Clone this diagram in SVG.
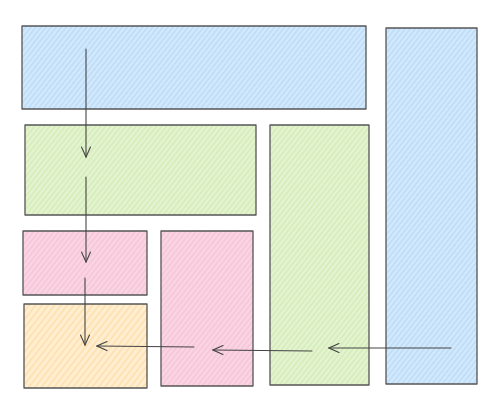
<svg xmlns="http://www.w3.org/2000/svg" width="496" height="404" viewBox="0 0 496 404">
<style>
.box{stroke:#555;stroke-width:1.3;stroke-linejoin:round}
.conn line,.conn path{stroke:#444;stroke-width:1.1;fill:none;stroke-linecap:round}
</style>
<defs>
<pattern id="hb" width="4" height="4" patternUnits="userSpaceOnUse" patternTransform="rotate(38)"><rect width="4" height="4" fill="#d3e9fc"/><line x1="1" y1="0" x2="1" y2="4" stroke="#b7d9f8" stroke-width="1.3"/></pattern>
<pattern id="hg" width="4" height="4" patternUnits="userSpaceOnUse" patternTransform="rotate(38)"><rect width="4" height="4" fill="#e4f4d2"/><line x1="1" y1="0" x2="1" y2="4" stroke="#d0ebb0" stroke-width="1.3"/></pattern>
<pattern id="hp" width="4" height="4" patternUnits="userSpaceOnUse" patternTransform="rotate(38)"><rect width="4" height="4" fill="#fad6e4"/><line x1="1" y1="0" x2="1" y2="4" stroke="#f6bfd5" stroke-width="1.3"/></pattern>
<pattern id="hy" width="5" height="5" patternUnits="userSpaceOnUse" patternTransform="rotate(38)"><rect width="5" height="5" fill="#ffeecf"/><line x1="1" y1="0" x2="1" y2="5" stroke="#fde0ae" stroke-width="1.6"/></pattern>
<marker id="ah" viewBox="0 0 12 12" refX="11" refY="6" markerWidth="12" markerHeight="12" markerUnits="userSpaceOnUse" orient="auto"><path d="M1,1.5 L11,6 L1,10.5" fill="none" stroke="#444" stroke-width="1.1" stroke-linecap="round"/></marker>
</defs>
<g id="blue-top"><rect class="box" x="22" y="26" width="344" height="83" fill="url(#hb)"/></g>
<g id="blue-right"><rect class="box" x="386" y="28" width="91" height="356" fill="url(#hb)"/></g>
<g id="green-wide"><rect class="box" x="25" y="125" width="231" height="90" fill="url(#hg)"/></g>
<g id="green-tall"><rect class="box" x="270" y="125" width="99" height="260" fill="url(#hg)"/></g>
<g id="pink-small"><rect class="box" x="23" y="231" width="124" height="64" fill="url(#hp)"/></g>
<g id="pink-tall"><rect class="box" x="161" y="231" width="92" height="155" fill="url(#hp)"/></g>
<g id="yellow"><rect class="box" x="24" y="304" width="123" height="84" fill="url(#hy)"/></g>
<g class="conn" id="connectors">
<line x1="86" y1="49" x2="86" y2="157" marker-end="url(#ah)"/>
<line x1="86" y1="177" x2="86" y2="262" marker-end="url(#ah)"/>
<line x1="85" y1="278" x2="85" y2="345" marker-end="url(#ah)"/>
<line x1="194" y1="347" x2="97" y2="346" marker-end="url(#ah)"/>
<line x1="312" y1="351" x2="213" y2="350" marker-end="url(#ah)"/>
<line x1="451" y1="348" x2="329" y2="348" marker-end="url(#ah)"/>
</g>
</svg>
